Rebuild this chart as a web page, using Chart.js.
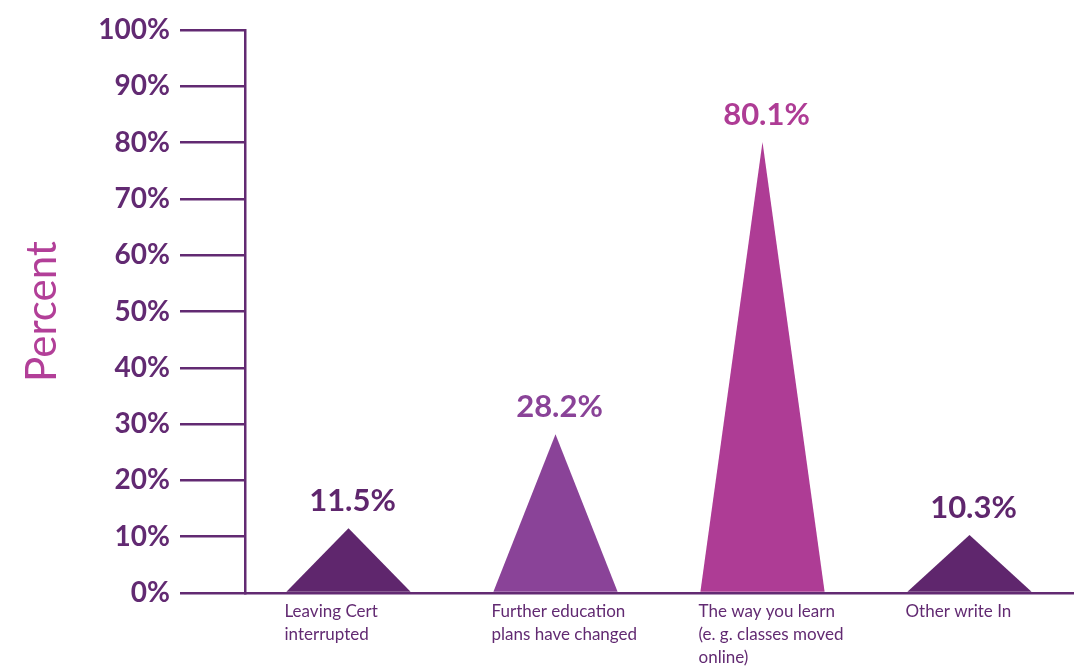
<!DOCTYPE html>
<html>
<head>
<meta charset="utf-8">
<script src="https://cdn.jsdelivr.net/npm/chart.js@4.4.1/dist/chart.umd.min.js"></script>
<style>
  html, body { margin: 0; padding: 0; background: #ffffff; }
  #wrap { width: 1074px; height: 666px; position: relative; }
</style>
</head>
<body>
<div id="wrap"><canvas id="myChart"></canvas></div>
<script>
// dati del grafico
const categories = [
    ['Leaving Cert', 'interrupted'],
    ['Further education', 'plans have changed'],
    ['The way you learn', '(e. g. classes moved', 'online)'],
    ['Other write In']
];
const percentValues = [11.5, 28.2, 80.1, 10.3];
const valueLabels = ['11.5%', '28.2%', '80.1%', '10.3%'];
const triangleColors = ['#5f266d', '#8a4398', '#ae3c95', '#5f266d'];
const labelColors = ['#5f266d', '#8a4398', '#ae3c95', '#5f266d'];

const PURPLE = '#622a72';
const FONT = 'Lato, "Open Sans", sans-serif';

// plugin: disegna i triangoli al posto delle barre
const trianglePlugin = {
    id: 'triangles',
    afterDatasetsDraw(chart) {
        const ctx = chart.ctx;
        const meta = chart.getDatasetMeta(0);
        meta.data.forEach((bar, i) => {
            const half = bar.width / 2;
            ctx.save();
            ctx.fillStyle = triangleColors[i];
            ctx.beginPath();
            ctx.moveTo(bar.x - half, bar.base);
            ctx.lineTo(bar.x, bar.y);
            ctx.lineTo(bar.x + half, bar.base);
            ctx.closePath();
            ctx.fill();

            // etichetta del valore
            ctx.fillStyle = labelColors[i];
            ctx.font = 'bold 31px ' + FONT;
            ctx.textAlign = 'center';
            ctx.textBaseline = 'middle';
            ctx.fillText(valueLabels[i], bar.x + 4, bar.y - 27);
            ctx.restore();
        });
    }
};

const chartCanvas = document.getElementById('myChart');
const myChart = new Chart(chartCanvas, {
    type: 'bar',
    data: {
        labels: categories,
        datasets: [{
            data: percentValues,
            backgroundColor: 'rgba(0,0,0,0)',
            borderWidth: 0,
            barPercentage: 0.6,
            categoryPercentage: 1.0
        }]
    },
    options: {
        responsive: true,
        maintainAspectRatio: false,
        animation: false,
        layout: { padding: { top: 30, right: 1, bottom: 0, left: 0 } },
        plugins: {
            legend: { display: false },
            tooltip: { enabled: false }
        },
        scales: {
            x: {
                grid: { display: false, drawTicks: false },
                border: { display: true, color: PURPLE, width: 2.5 },
                ticks: {
                    color: PURPLE,
                    font: { family: FONT, size: 17, lineHeight: 1.35 },
                    align: 'start',
                    labelOffset: -64,
                    padding: 7,
                    maxRotation: 0,
                    autoSkip: false
                },
                afterFit(scale) {
                    scale.height = 73;
                    scale.paddingLeft = 0;
                    scale.paddingRight = 0;
                }
            },
            y: {
                min: 0,
                max: 100,
                ticks: {
                    stepSize: 10,
                    color: PURPLE,
                    font: { family: FONT, size: 28, weight: 'bold' },
                    padding: 10,
                    callback: v => v + '%'
                },
                grid: {
                    drawOnChartArea: false,
                    drawTicks: true,
                    tickLength: 65,
                    color: PURPLE,
                    lineWidth: 2.5
                },
                border: { display: true, color: PURPLE, width: 2.5 },
                title: {
                    display: true,
                    text: 'Percent',
                    color: '#b23f98',
                    font: { family: FONT, size: 42 },
                    padding: { top: 17, bottom: 0 }
                },
                afterFit(scale) { scale.width = 245; }
            }
        }
    },
    plugins: [trianglePlugin]
});
</script>
</body>
</html>
